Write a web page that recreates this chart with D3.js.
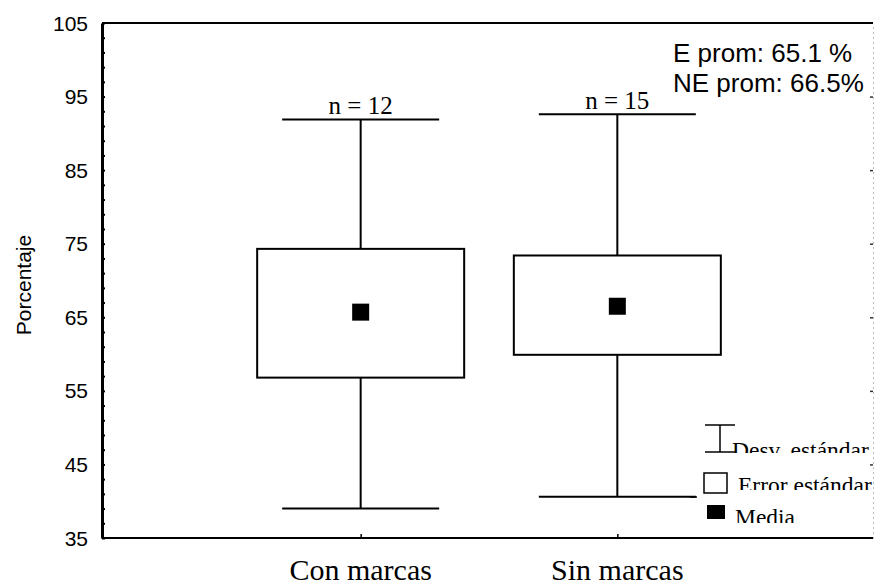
<!DOCTYPE html>
<html>
<head>
<meta charset="utf-8">
<script src="https://cdn.jsdelivr.net/npm/d3@7"></script>
<style>
  body { margin: 0; background: #fff; }
  svg { display: block; }
</style>
</head>
<body>
<svg id="chart"></svg>
<script>
// values
const categories = ["Con marcas", "Sin marcas"];
const counts = [12, 15];
const means = [65.7, 66.5];
const seLow = [56.8, 59.9];
const seHigh = [74.3, 73.4];
const sdLow = [39.0, 40.6];
const sdHigh = [91.9, 92.6];
const yTicks = [35, 45, 55, 65, 75, 85, 95, 105];
const notes = ["E prom: 65.1 %", "NE prom: 66.5%"];
const legendLabels = ["Desv. estándar", "Error estándar", "Media"];

const W = 874, H = 588;
const plotL = 102, plotR = 873, plotT = 23, plotB = 538;

const svg = d3.select("#chart").attr("width", W).attr("height", H);

const y = d3.scaleLinear().domain([35, 105]).range([plotB, plotT]);
const x = d3.scalePoint().domain(categories).range([plotL + 2, plotR + 1]).padding(1);

const sans = "'Liberation Sans', Arial, sans-serif";
const serif = "'Liberation Serif', 'Times New Roman', serif";

// frame top + bottom
svg.append("line").attr("x1", plotL).attr("x2", plotR).attr("y1", plotT).attr("y2", plotT)
  .attr("stroke", "#000").attr("stroke-width", 2);
svg.append("line").attr("x1", plotL).attr("x2", plotR).attr("y1", plotB).attr("y2", plotB)
  .attr("stroke", "#000").attr("stroke-width", 2);

// left axis, minor ticks every 2 pointing inside
const gy = svg.append("g").attr("transform", `translate(${plotL},0)`)
  .call(d3.axisRight(y).tickValues(d3.range(35, 106, 2)).tickSize(3).tickFormat("").tickSizeOuter(0));
gy.select(".domain").attr("stroke-width", 3);
gy.selectAll(".tick line").attr("stroke-width", 2);

gy.selectAll(".lab").data(yTicks).enter().append("text")
  .attr("x", 88 - plotL).attr("y", d => y(d)).attr("dy", "0.36em")
  .attr("text-anchor", "end").attr("font-family", sans).attr("font-size", 21)
  .attr("fill", "#000")
  .text(d => d);

// right side, dotted
const gr = svg.append("g").attr("transform", `translate(${plotR},0)`)
  .call(d3.axisLeft(y).tickValues(yTicks.slice(1, -1)).tickSize(3).tickFormat("").tickSizeOuter(0));
gr.select(".domain").attr("stroke", "#777").attr("stroke-dasharray", "1,4");
gr.selectAll(".tick line").attr("stroke", "#333").attr("stroke-width", 1.5);

// x axis ticks
const gx = svg.append("g").attr("transform", `translate(0,${plotB})`)
  .call(d3.axisTop(x).tickSize(4).tickFormat("").tickSizeOuter(0));
gx.select(".domain").remove();
gx.selectAll(".tick line").attr("stroke-width", 1.5);

// category labels near the bottom edge
svg.selectAll(".cat").data(categories).enter().append("text")
  .attr("x", d => x(d)).attr("y", 580)
  .attr("text-anchor", "middle").attr("font-family", serif).attr("font-size", 30)
  .text(d => d);

// y title
svg.append("text")
  .attr("transform", "translate(31,285) rotate(-90)")
  .attr("text-anchor", "middle").attr("font-family", sans).attr("font-size", 21)
  .text("Porcentaje");

// boxes
const rows = categories.map((c, i) => ({
  c, n: counts[i], m: means[i], lo: seLow[i], hi: seHigh[i], min: sdLow[i], max: sdHigh[i]
}));
const boxHalf = 103.5, capHalf = 78.5, meanSize = 17;

const g = svg.selectAll(".box").data(rows).enter().append("g");

g.append("line").attr("x1", d => x(d.c)).attr("x2", d => x(d.c))
  .attr("y1", d => y(d.max)).attr("y2", d => y(d.hi)).attr("stroke", "#000").attr("stroke-width", 2);
g.append("line").attr("x1", d => x(d.c)).attr("x2", d => x(d.c))
  .attr("y1", d => y(d.lo)).attr("y2", d => y(d.min)).attr("stroke", "#000").attr("stroke-width", 2);
g.append("line").attr("x1", d => x(d.c) - capHalf).attr("x2", d => x(d.c) + capHalf)
  .attr("y1", d => y(d.max)).attr("y2", d => y(d.max)).attr("stroke", "#000").attr("stroke-width", 2);
g.append("line").attr("x1", d => x(d.c) - capHalf).attr("x2", d => x(d.c) + capHalf)
  .attr("y1", d => y(d.min)).attr("y2", d => y(d.min)).attr("stroke", "#000").attr("stroke-width", 2);
g.append("rect")
  .attr("x", d => x(d.c) - boxHalf).attr("width", boxHalf * 2)
  .attr("y", d => y(d.hi)).attr("height", d => y(d.lo) - y(d.hi))
  .attr("fill", "#fff").attr("stroke", "#000").attr("stroke-width", 2);
g.append("rect")
  .attr("x", d => x(d.c) - meanSize / 2).attr("y", d => y(d.m) - meanSize / 2)
  .attr("width", meanSize).attr("height", meanSize).attr("fill", "#000");
g.append("text")
  .attr("x", d => x(d.c)).attr("y", d => y(d.max) - 5)
  .attr("text-anchor", "middle").attr("font-family", serif).attr("font-size", 25)
  .text(d => "n = " + d.n);

// notes top right
svg.selectAll(".note").data(notes).enter().append("text")
  .attr("x", 673).attr("y", (d, i) => 62 + i * 30)
  .attr("font-family", sans).attr("font-size", 26)
  .text(d => d);

// legend, text clipped like the original
const defs = svg.append("defs");
const legendRows = [
  { label: legendLabels[0], tx: 732, base: 458, clip: 453 },
  { label: legendLabels[1], tx: 738, base: 493, clip: 490 },
  { label: legendLabels[2], tx: 735, base: 525, clip: 523 }
];
legendRows.forEach((r, i) => {
  defs.append("clipPath").attr("id", "lc" + i)
    .append("rect").attr("x", r.tx - 2).attr("y", r.base - 30).attr("width", 140).attr("height", r.clip - (r.base - 30));
  svg.append("text").attr("clip-path", `url(#lc${i})`)
    .attr("x", r.tx).attr("y", r.base)
    .attr("font-family", serif).attr("font-size", 23.5)
    .text(r.label);
});
const lg = svg.append("g");
lg.append("line").attr("x1", 720).attr("x2", 720).attr("y1", 425).attr("y2", 452).attr("stroke", "#000").attr("stroke-width", 1.5);
lg.append("line").attr("x1", 705).attr("x2", 735).attr("y1", 425).attr("y2", 425).attr("stroke", "#000").attr("stroke-width", 1.5);
lg.append("line").attr("x1", 705).attr("x2", 735).attr("y1", 452).attr("y2", 452).attr("stroke", "#000").attr("stroke-width", 1.5);
lg.append("rect").attr("x", 704).attr("y", 473).attr("width", 23).attr("height", 20)
  .attr("fill", "#fff").attr("stroke", "#000").attr("stroke-width", 1.5);
lg.append("rect").attr("x", 707).attr("y", 505).attr("width", 18).attr("height", 14).attr("fill", "#000");
lg.append("line").attr("x1", 690).attr("x2", 697).attr("y1", 497).attr("y2", 497).attr("stroke", "#000").attr("stroke-width", 1.5);
</script>
</body>
</html>
